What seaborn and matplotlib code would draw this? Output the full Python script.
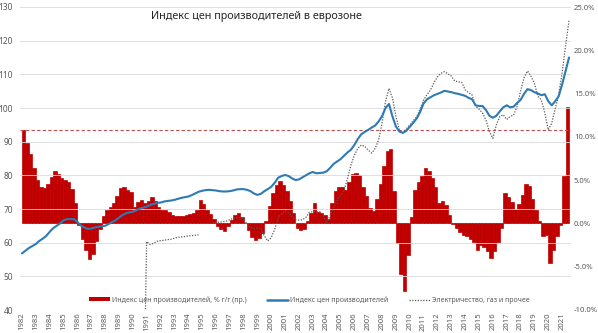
import numpy as np
import pandas as pd
import matplotlib
matplotlib.use("Agg")
import matplotlib.pyplot as plt
from matplotlib.patches import Patch
from matplotlib.lines import Line2D
from matplotlib.ticker import FuncFormatter
import seaborn as sns

# ---------------- data (quarterly) ----------------
start_year = 1982
years = list(range(1982, 2022))

# PPI y/y, % (right axis), quarters 1982Q1 .. 2021Q2
ppi_yoy = [
    10.8, 9.3, 8.0, 6.4,   # 1982
    5.0, 4.2, 4.1, 4.6,    # 1983
    5.4, 6.1, 5.7, 5.3,    # 1984
    5.0, 4.8, 4.0, 2.4,    # 1985
    -0.2, -1.8, -3.1, -4.1,  # 1986
    -3.5, -2.0, -0.6, 0.9,   # 1987
    1.5, 1.9, 2.4, 3.2,    # 1988
    4.1, 4.2, 3.9, 3.6,    # 1989
    1.9, 2.5, 2.7, 2.4,    # 1990
    2.6, 3.1, 2.6, 1.9,    # 1991
    1.6, 1.5, 1.3, 1.0,    # 1992
    0.9, 0.9, 0.9, 1.0,    # 1993
    1.1, 1.2, 1.5, 2.7,    # 1994
    2.2, 1.6, 1.1, 0.5,    # 1995
    -0.3, -0.7, -0.9, -0.3,  # 1996
    0.4, 1.0, 1.2, 0.7,    # 1997
    0.1, -0.8, -1.6, -1.9,   # 1998
    -1.7, -1.1, 0.3, 2.0,    # 1999
    3.5, 4.4, 4.9, 4.4,    # 2000
    3.7, 2.6, 1.2, -0.5,   # 2001
    -0.8, -0.6, 0.3, 1.2,  # 2002
    2.4, 1.3, 1.2, 1.0,    # 2003
    0.5, 2.4, 3.8, 4.2,    # 2004
    4.2, 3.9, 4.8, 5.7,    # 2005
    5.8, 5.6, 4.2, 3.2,    # 2006
    1.8, 1.4, 2.8, 4.5,    # 2007
    6.6, 8.4, 8.6, 3.8,    # 2008
    -2.3, -5.8, -7.8, -3.6,  # 2009
    0.8, 3.9, 4.8, 5.5,    # 2010
    6.4, 6.0, 5.2, 4.2,    # 2011
    2.4, 2.6, 2.1, 1.0,    # 2012
    -0.1, -0.5, -1.0, -1.3,  # 2013
    -1.5, -1.8, -2.2, -3.1,  # 2014
    -2.5, -2.7, -3.2, -4.0,  # 2015
    -3.2, -2.2, -0.5, 3.5,   # 2016
    3.0, 2.5, 1.7, 2.2,    # 2017
    3.3, 4.6, 4.3, 2.8,    # 2018
    1.6, 0.3, -1.4, -1.3,  # 2019
    -4.6, -3.1, -1.5, -0.2,  # 2020
    5.5, 13.4,             # 2021
]

# PPI index (left axis), quarters 1982Q1 .. 2021Q3
ppi_index = [
    56.8, 57.6, 58.4, 59.0,
    59.6, 60.5, 61.2, 62.0,
    63.2, 64.3, 65.0, 65.7,
    66.6, 67.0, 67.0, 67.0,
    66.2, 65.1, 64.5, 64.1,
    64.2, 64.5, 64.7, 64.9,
    65.0, 65.5, 66.1, 66.6,
    67.4, 68.2, 68.7, 69.0,
    69.2, 69.6, 70.1, 70.4,
    70.7, 71.2, 71.5, 71.8,
    71.9, 72.2, 72.4, 72.5,
    72.7, 73.0, 73.3, 73.5,
    73.7, 74.1, 74.6, 75.1,
    75.4, 75.6, 75.7, 75.6,
    75.5, 75.3, 75.2, 75.2,
    75.3, 75.5, 75.8, 75.9,
    75.9, 75.7, 75.3, 74.6,
    74.2, 74.5, 75.3, 75.9,
    76.6, 77.8, 79.3, 79.8,
    80.1, 79.8, 79.1, 78.6,
    78.8, 79.4, 80.0, 80.6,
    81.0, 80.6, 80.7, 80.8,
    81.2, 82.2, 83.4, 84.1,
    84.8, 85.8, 86.8, 87.6,
    89.0, 90.8, 92.2, 92.9,
    93.5, 94.2, 94.8, 96.0,
    97.6, 100.0, 101.2, 97.5,
    94.5, 93.0, 92.6, 93.2,
    94.4, 95.6, 96.9, 98.8,
    101.4, 102.6, 103.2, 103.8,
    104.2, 104.6, 105.1, 104.9,
    104.7, 104.4, 104.2, 103.9,
    103.6, 103.0, 102.6, 100.8,
    100.6, 100.6, 99.4, 97.7,
    97.1, 97.7, 99.0, 100.2,
    100.8, 100.2, 100.4, 101.5,
    102.4, 104.2, 105.6, 105.3,
    104.7, 104.3, 103.8, 104.1,
    102.0, 100.8, 102.0, 103.5,
    107.0, 111.0, 115.0,
]

# Electricity, gas etc. (left axis), quarters 1982Q1 .. 2021Q3 (NaN = no data)
nan = np.nan
electricity = [nan] * 35 + [0.0] + [
    60.3, 59.4, 59.8, 60.4,      # 1991
    60.6, 60.7, 60.9, 61.0,      # 1992
    61.3, 61.6, 61.7, 61.8,      # 1993
    62.0, 62.1, 62.2, 62.3,      # 1994
    nan, nan, nan, 65.8,         # 1995
    66.0, 66.1, 66.2, 66.4,      # 1996
    66.8, 67.2, 67.4, 67.4,      # 1997
    67.0, 65.5, 64.3, 64.2,      # 1998
    64.3, 64.3, 62.0, 60.5,      # 1999
    61.5, 64.0, 67.5, 68.5,      # 2000
    69.5, 69.0, 67.8, 66.8,      # 2001
    66.7, 66.8, 67.5, 69.0,      # 2002
    69.2, 69.2, 69.2, 68.0,      # 2003
    65.8, 68.0, 70.5, 72.5,      # 2004
    74.0, 75.5, 79.0, 83.0,      # 2005
    86.0, 88.0, 89.0, 88.6,      # 2006
    87.5, 86.6, 88.0, 90.5,      # 2007
    95.5, 102.0, 105.8, 103.0,   # 2008
    97.5, 93.5, 92.7, 93.8,      # 2009
    95.0, 96.2, 97.4, 99.8,      # 2010
    102.4, 104.0, 105.4, 107.5,  # 2011
    109.3, 110.3, 110.8, 110.2,  # 2012
    109.5, 108.0, 107.8, 107.6,  # 2013
    105.4, 104.5, 103.9, 100.5,  # 2014
    99.7, 98.5, 96.4, 93.0,      # 2015
    91.0, 95.0, 97.5, 98.0,      # 2016
    96.6, 97.5, 97.9, 100.5,     # 2017
    105.0, 109.0, 111.0, 109.5,  # 2018
    107.3, 103.5, 102.4, 98.5,   # 2019
    93.5, 95.5, 99.8, 104.0,     # 2020
    110.5, 118.5, 126.1,         # 2021
]

title = "Индекс цен производителей в еврозоне"
lbl_bar = "Индекс цен производителей, % г/г (пр.)"
lbl_idx = "Индекс цен производителей"
lbl_el = "Электричество, газ и прочее"

# ---------------- styling ----------------
sns.set_style("white")
plt.rcParams["font.family"] = ["Noto Sans", "DejaVu Sans"]

RED = "#C00000"
BLUE = "#2E7AB5"
GREY_TXT = "#595959"

t_bar = start_year + np.arange(len(ppi_yoy)) * 0.25
t_line = start_year + np.arange(len(ppi_index)) * 0.25

df_idx = pd.DataFrame({"t": t_line, "v": ppi_index})
el = np.array(electricity, dtype=float)
seg = np.cumsum(np.isnan(el))
df_el = pd.DataFrame({"t": t_line, "v": el, "seg": seg}).dropna()

W, H = 598, 333
fig = plt.figure(figsize=(W / 100, H / 100), dpi=100)
ax = fig.add_axes([20 / W, 1 - 310 / H, 551 / W, 303 / H])
ax2 = ax.twinx()

# bars on the right axis, drawn behind the lines
ax2.bar(t_bar, ppi_yoy, width=0.25, align="edge", color=RED,
        edgecolor=RED, linewidth=0.5)
ax2.axhline(ppi_yoy[0], color="#C0504D", lw=0.8, ls=(0, (3, 2)))
ax2.set_ylim(-10, 25)
ax2.set_yticks(np.arange(-10, 26, 5))
ax2.yaxis.set_major_formatter(FuncFormatter(lambda v, p: f"{v:.1f}%"))

ax.set_zorder(ax2.get_zorder() + 1)
ax.patch.set_visible(False)

sns.lineplot(data=df_el, x="t", y="v", units="seg", estimator=None, ax=ax,
             color="#595959", lw=0.9, ls=(0, (1, 1.2)), legend=False)
sns.lineplot(data=df_idx, x="t", y="v", ax=ax, color=BLUE, lw=1.5, legend=False)

ax.set_ylim(40, 130)
ax.set_yticks(np.arange(40, 131, 10))
ax.set_xlim(1981.86, 2021.64)
ax.set_xticks(years)
ax.set_xticklabels([str(y) for y in years], rotation=90)
ax.set_xlabel("")
ax.set_ylabel("")
ax.grid(axis="y", color="#D9D9D9", lw=0.6)
ax.grid(axis="x", visible=False)

for a in (ax, ax2):
    for s in a.spines.values():
        s.set_visible(False)
ax.tick_params(axis="y", length=0, labelsize=6, labelcolor=GREY_TXT, pad=5)
ax.tick_params(axis="x", length=0, labelsize=5.5, labelcolor=GREY_TXT, pad=2)
ax2.tick_params(axis="y", length=0, labelsize=5.5, labelcolor=GREY_TXT, pad=2)

handles = [
    Patch(facecolor=RED, edgecolor="none"),
    Line2D([], [], color=BLUE, lw=1.8),
    Line2D([], [], color="#595959", lw=0.9, ls=(0, (1, 1.2))),
]
leg = ax.legend(handles, [lbl_bar, lbl_idx, lbl_el], loc="lower center",
                bbox_to_anchor=(0.525, 0.0), ncol=3, frameon=False,
                fontsize=5.0, handlelength=3.0, handleheight=0.5,
                columnspacing=3.0, handletextpad=0.3)
for txt in leg.get_texts():
    txt.set_color(GREY_TXT)

fig.text(256 / W, 1 - 17 / H, title, ha="center", va="center",
         fontsize=7.8, fontweight="bold", color="#262626")

fig.savefig("out.png", dpi=100)
